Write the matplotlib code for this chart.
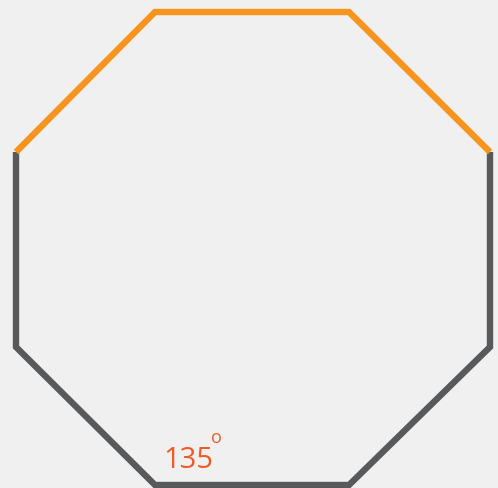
import matplotlib
matplotlib.use('Agg')
import matplotlib.pyplot as plt

# octagon vertices (pixel-like coordinates, y grows downward)
top_x = [16, 155, 349, 490]
top_y = [152, 12, 12, 152]
rest_x = [490, 490, 349, 155, 16, 16]
rest_y = [152, 347, 485, 485, 347, 152]
angle_label = '135'

fig = plt.figure(figsize=(4.98, 4.88), dpi=100)
fig.patch.set_facecolor('#f0f0f0')
ax = fig.add_axes([0, 0, 1, 1])
ax.set_facecolor('#f0f0f0')
ax.set_xlim(0, 498)
ax.set_ylim(488, 0)
ax.axis('off')

ax.plot(rest_x, rest_y, color='#58595b', lw=4.6, solid_joinstyle='miter',
        solid_capstyle='butt')
ax.plot(top_x, top_y, color='#f7941d', lw=4.6, solid_joinstyle='miter',
        solid_capstyle='butt')

ax.text(163, 468, angle_label, color='#f15a24', fontsize=21,
        family='Open Sans', ha='left', va='baseline')
ax.text(211, 443, 'o', color='#f15a24', fontsize=13,
        family='Open Sans', ha='left', va='baseline')

fig.savefig('out.png', dpi=100, facecolor=fig.get_facecolor())
